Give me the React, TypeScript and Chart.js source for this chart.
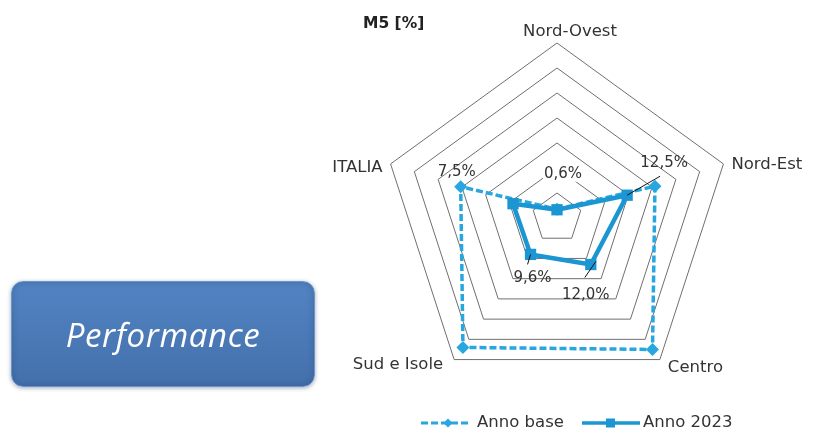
import React, { useEffect, useRef } from 'react';
import { Chart, registerables } from 'chart.js';

Chart.register(...registerables);

// ---- data ----
const categories = ['Nord-Ovest', 'Nord-Est', 'Centro', 'Sud e Isole', 'ITALIA'];
const seriesNames = ['Anno base', 'Anno 2023'];
const annoBase = [0.35, 4.12, 6.5, 6.4, 4.05];
const anno2023 = [0.33, 2.95, 2.3, 1.8, 1.85];
const scaleMin = 0;
const scaleMax = 7;
const scaleStep = 1;
const valueLabels = ['0,6%', '12,5%', '12,0%', '9,6%', '7,5%'];
const valueLabelSeries = ['Anno 2023', 'Anno 2023', 'Anno 2023', 'Anno 2023', 'Anno base'];
const chartTitle = 'M5 [%]';
const sideBoxText = 'Performance';

// ---- styles ----
const C_BASE = '#27a6df';
const C_2023 = '#1b96d3';
const TEXT = '#333333';
const FONT = '"DejaVu Sans", sans-serif';

const pointLabelStyle = [
  { dx: 13, dy: -11, align: 'center' },
  { dx: 8, dy: 1, align: 'left' },
  { dx: 8, dy: 8, align: 'left' },
  { dx: -11, dy: 5, align: 'right' },
  { dx: -8, dy: 4, align: 'right' },
];

const valueLabelStyle = [
  { dx: 6, dy: -36, bg: true, leader: null },
  { dx: 37, dy: -32, bg: false, leader: [0, 0, 33, -19] },
  { dx: -5, dy: 31, bg: false, leader: [5, -3, -6, 13] },
  { dx: 2, dy: 24, bg: false, leader: [0, 0, -3, 10] },
  { dx: -4, dy: -15, bg: false, leader: null },
];

const decorPlugin = {
  id: 'decor',
  afterDraw(chart: any) {
    const ctx = chart.ctx as CanvasRenderingContext2D;
    const scale = chart.scales.r;
    ctx.save();

    // title
    ctx.fillStyle = '#222';
    ctx.font = `bold 15.5px ${FONT}`;
    ctx.textAlign = 'left';
    ctx.textBaseline = 'middle';
    ctx.fillText(chartTitle, 363, 24);

    // point labels
    ctx.font = `16.5px ${FONT}`;
    ctx.fillStyle = TEXT;
    categories.forEach((lab, i) => {
      const p = scale.getPointPosition(i, scale.drawingArea);
      const st = pointLabelStyle[i];
      ctx.textAlign = st.align as CanvasTextAlign;
      ctx.textBaseline = 'middle';
      ctx.fillText(lab, p.x + st.dx, p.y + st.dy);
    });

    // value labels
    ctx.font = `15px ${FONT}`;
    valueLabels.forEach((txt, i) => {
      const dsIndex = chart.data.datasets.findIndex((d: any) => d.label === valueLabelSeries[i]);
      const pt = chart.getDatasetMeta(dsIndex).data[i];
      const st = valueLabelStyle[i];
      const tx = pt.x + st.dx;
      const ty = pt.y + st.dy;
      if (st.leader) {
        ctx.strokeStyle = '#111';
        ctx.lineWidth = 1;
        ctx.setLineDash([]);
        ctx.beginPath();
        ctx.moveTo(pt.x + st.leader[0], pt.y + st.leader[1]);
        ctx.lineTo(pt.x + st.leader[2], pt.y + st.leader[3]);
        ctx.stroke();
      }
      const w = ctx.measureText(txt).width;
      if (st.bg) {
        ctx.fillStyle = '#fff';
        ctx.fillRect(tx - w / 2 - 1, ty - 8, w + 2, 16);
      }
      ctx.fillStyle = TEXT;
      ctx.textAlign = 'center';
      ctx.textBaseline = 'middle';
      ctx.fillText(txt, tx, ty);
    });

    // legend
    const ly = 423;
    ctx.lineWidth = 3;
    ctx.strokeStyle = C_BASE;
    ctx.setLineDash([7, 3]);
    ctx.beginPath();
    ctx.moveTo(421, ly);
    ctx.lineTo(471, ly);
    ctx.stroke();
    ctx.setLineDash([]);
    ctx.fillStyle = C_BASE;
    ctx.beginPath();
    ctx.moveTo(448, ly - 4.5);
    ctx.lineTo(452.5, ly);
    ctx.lineTo(448, ly + 4.5);
    ctx.lineTo(443.5, ly);
    ctx.closePath();
    ctx.fill();

    ctx.strokeStyle = C_2023;
    ctx.lineWidth = 3.5;
    ctx.beginPath();
    ctx.moveTo(582, ly);
    ctx.lineTo(640, ly);
    ctx.stroke();
    ctx.fillStyle = C_2023;
    ctx.fillRect(606, ly - 4.5, 9, 9);

    ctx.fillStyle = TEXT;
    ctx.font = `16.5px ${FONT}`;
    ctx.textAlign = 'left';
    ctx.textBaseline = 'middle';
    ctx.fillText(seriesNames[0], 477, ly);
    ctx.fillText(seriesNames[1], 643, ly);

    ctx.restore();
  },
};

export default function App() {
  const ref = useRef<HTMLCanvasElement>(null);

  useEffect(() => {
    const canvas = ref.current!;
    const chart = new Chart(canvas, {
      type: 'radar',
      data: {
        labels: categories,
        datasets: [
          {
            label: seriesNames[1],
            data: anno2023,
            order: 0,
            borderColor: C_2023,
            backgroundColor: C_2023,
            borderWidth: 4.5,
            pointStyle: 'rect',
            pointRadius: 8,
            pointBorderWidth: 0,
            pointBackgroundColor: C_2023,
            fill: false,
          },
          {
            label: seriesNames[0],
            data: annoBase,
            order: 1,
            borderColor: C_BASE,
            backgroundColor: C_BASE,
            borderWidth: 3.5,
            borderDash: [7, 3],
            pointStyle: 'rectRot',
            pointRadius: 6.5,
            pointBorderWidth: 0,
            pointBackgroundColor: C_BASE,
            fill: false,
          },
        ],
      } as any,
      options: {
        responsive: false,
        animation: false,
        devicePixelRatio: 1,
        layout: { padding: { left: 382, right: 82, top: 43, bottom: 42 } },
        plugins: {
          legend: { display: false },
          title: { display: false },
          tooltip: { enabled: false },
        },
        scales: {
          r: {
            min: scaleMin,
            max: scaleMax,
            ticks: { display: false, stepSize: scaleStep },
            grid: { color: '#6f6f6f', lineWidth: 1 },
            angleLines: { display: false },
            pointLabels: { display: false },
          },
        },
      } as any,
      plugins: [decorPlugin],
    });
    return () => chart.destroy();
  }, []);

  return (
    <div style={{ position: 'fixed', left: 0, top: 0, width: 814, height: 435, background: '#fff' }}>
      <canvas ref={ref} width={814} height={435} style={{ position: 'absolute', left: 0, top: 0 }} />
      <div
        style={{
          position: 'absolute',
          left: 11,
          top: 281,
          width: 304,
          height: 106,
          boxSizing: 'border-box',
          borderRadius: 12,
          background: 'linear-gradient(180deg, #5283c2 0%, #4a79b6 55%, #4470aa 100%)',
          border: '1.5px solid #6a95cd',
          boxShadow: '0 1px 4px rgba(40,60,90,0.45), inset 0 0 6px rgba(30,60,110,0.35)',
          display: 'flex',
          alignItems: 'center',
          justifyContent: 'center',
          color: '#fff',
          fontFamily: '"Open Sans", sans-serif',
          fontStyle: 'italic',
          fontSize: 33,
          letterSpacing: 0.6,
        }}
      >
        {sideBoxText}
      </div>
    </div>
  );
}
